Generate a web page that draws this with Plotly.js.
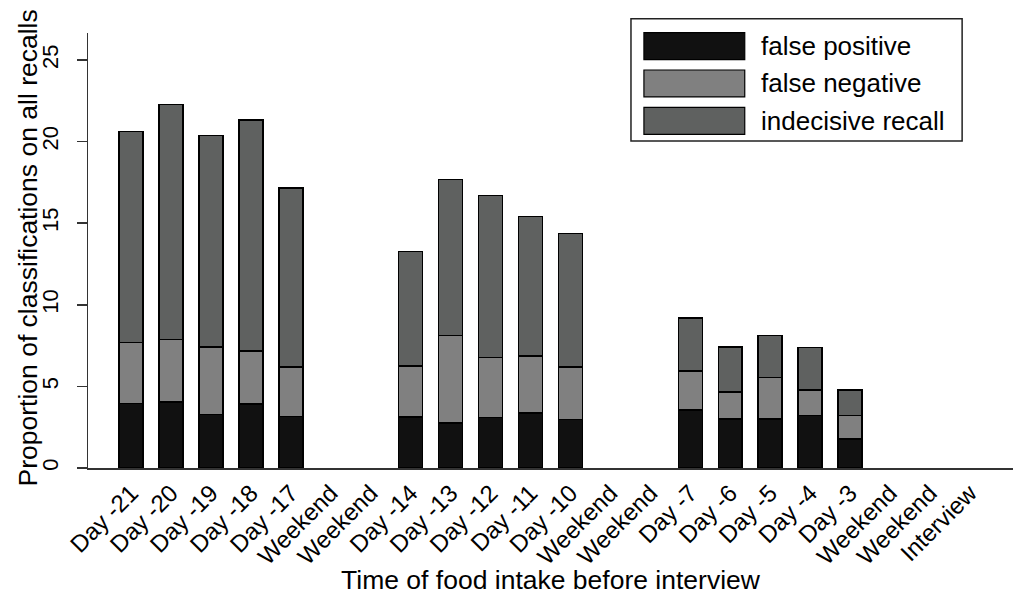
<!DOCTYPE html>
<html>
<head>
<meta charset="utf-8">
<script src="https://cdn.plot.ly/plotly-3.0.1.min.js"></script>
<style>html,body{margin:0;padding:0;background:#fff;}#chart{width:1019px;height:595px;}</style>
</head>
<body>
<div id="chart"></div>
<script>
const categories = ["Day -21","Day -20","Day -19","Day -18","Day -17","Weekend","Weekend",
  "Day -14","Day -13","Day -12","Day -11","Day -10","Weekend","Weekend",
  "Day -7","Day -6","Day -5","Day -4","Day -3","Weekend","Weekend","Interview"];
const falsePositive = [3.95,4.05,3.28,3.93,3.15,null,null,3.13,2.76,3.09,3.37,2.97,null,null,3.54,3.00,3.00,3.21,1.78,null,null,null];
const falseNegative = [3.74,3.83,4.14,3.25,3.03,null,null,3.13,5.36,3.68,3.50,3.23,null,null,2.39,1.66,2.56,1.56,1.45,null,null,null];
const indecisiveRecall = [12.92,14.39,12.95,14.15,10.98,null,null,6.99,9.57,9.94,8.53,8.16,null,null,3.27,2.74,2.56,2.62,1.56,null,null,null];
const seriesNames = ["false positive","false negative","indecisive recall"];
const seriesColors = ["#111111","#808080","#5f6160"];

const xIdx = categories.map((c,i)=>i);
const values = [falsePositive, falseNegative, indecisiveRecall];
const FONT = "Liberation Sans, Arial, sans-serif";

const traces = values.map((v,k)=>({
  type:"bar", x:xIdx, y:v, name:seriesNames[k], width:0.6,
  marker:{color:seriesColors[k], line:{color:"#000", width:1.5}},
  showlegend:false, hoverinfo:"skip"
}));

// legend drawn in paper coords
const shapes = [{type:"rect", xref:"paper", yref:"paper", x0:0.587, x1:0.945, y0:0.752, y1:1.033,
  line:{color:"#222", width:1.5}, fillcolor:"#fff"}];
const annotations = [];
const rowY = [0.97, 0.884, 0.798];
seriesNames.forEach((n,k)=>{
  shapes.push({type:"rect", xref:"paper", yref:"paper", x0:0.601, x1:0.71, y0:rowY[k]-0.031, y1:rowY[k]+0.031,
    line:{color:"#000", width:1.2}, fillcolor:seriesColors[k]});
  annotations.push({xref:"paper", yref:"paper", x:0.725, y:rowY[k], text:n, showarrow:false,
    xanchor:"left", yanchor:"middle", font:{family:FONT, size:26, color:"#000"}});
});
// y-axis title
annotations.push({xref:"paper", yref:"paper", x:-0.0647, y:0.505, textangle:-90,
  text:"Proportion of classifications on all recalls", showarrow:false,
  xanchor:"center", yanchor:"middle", font:{family:FONT, size:26.5, color:"#000"}});

const layout = {
  width:1019, height:595,
  margin:{l:88, r:6, t:33, b:127, pad:0},
  paper_bgcolor:"#fff", plot_bgcolor:"#fff",
  barmode:"stack", bargap:0.4,
  font:{family:FONT, color:"#000"},
  xaxis:{range:[-1.08,22.08], tickvals:xIdx, ticktext:categories, tickangle:-45,
    ticks:"", showgrid:false, zeroline:false, showline:true, linecolor:"#333", linewidth:1.5,
    tickfont:{family:FONT, size:24, color:"#000"}, automargin:false,
    title:{text:"Time of food intake before interview", font:{family:FONT, size:26.5, color:"#000"}, standoff:4}},
  yaxis:{range:[0,26.65], tickvals:[0,5,10,15,20,25], tickangle:-90,
    ticks:"outside", ticklen:10, tickwidth:1.5, tickcolor:"#333", ticklabelstandoff:10,
    showgrid:false, zeroline:false, showline:true, linecolor:"#333", linewidth:1.5,
    tickfont:{family:FONT, size:22, color:"#000"}, automargin:false},
  shapes:shapes, annotations:annotations
};
Plotly.newPlot("chart", traces, layout, {displayModeBar:false, staticPlot:true});
</script>
</body>
</html>
